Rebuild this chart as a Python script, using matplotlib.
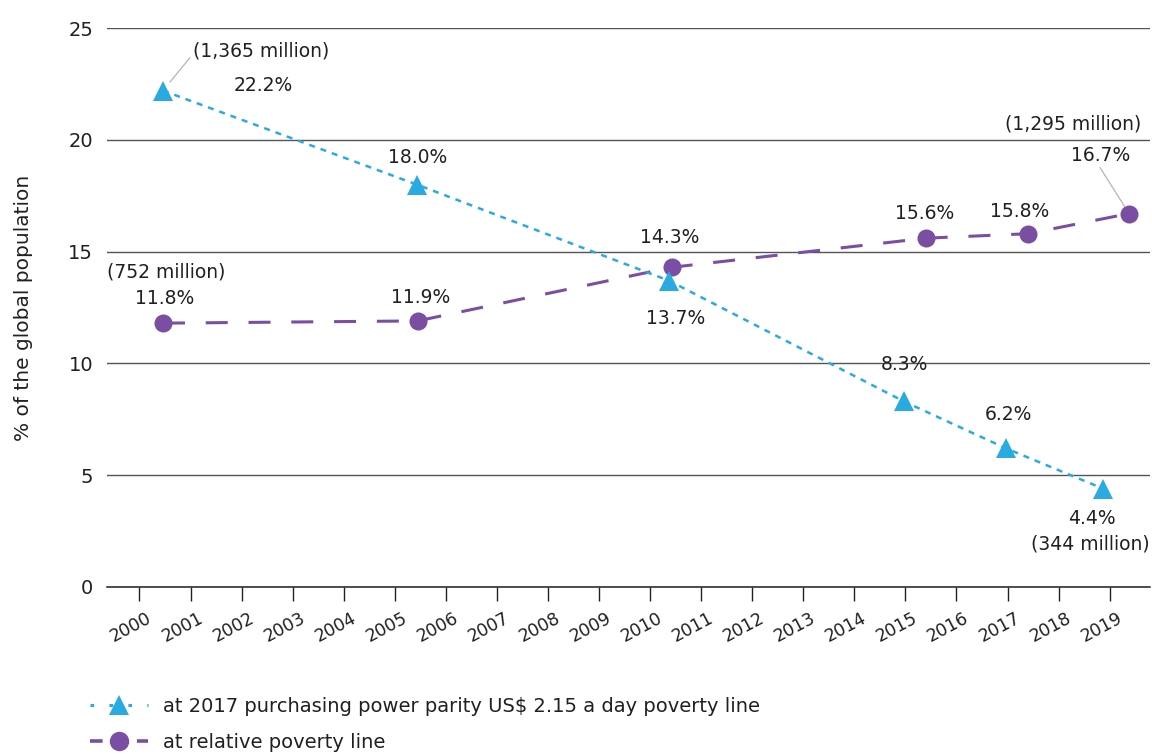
import matplotlib
matplotlib.use("Agg")
import matplotlib.pyplot as plt
from matplotlib.lines import Line2D
import matplotlib.transforms as mtransforms

plt.rcParams['font.family'] = ['DejaVu Sans']

# ---------------- data ----------------
years = list(range(2000, 2020))

# x positions where the markers sit (the designer shifted them off the ticks)
ppp_x = [2000.46, 2005.43, 2010.37, 2014.97, 2016.97, 2018.87]
ppp_val = [22.2, 18.0, 13.7, 8.3, 6.2, 4.4]
ppp_lbl = ['22.2%', '18.0%', '13.7%', '8.3%', '6.2%', '4.4%']

rel_x = [2000.46, 2005.45, 2010.43, 2015.40, 2017.40, 2019.38]
rel_val = [11.8, 11.9, 14.3, 15.6, 15.8, 16.7]
rel_lbl = ['11.8%', '11.9%', '14.3%', '15.6%', '15.8%', '16.7%']

ppp_name = 'at 2017 purchasing power parity US$ 2.15 a day poverty line'
rel_name = 'at relative poverty line'

c_blue = '#29abe2'
c_purple = '#7a4fa3'
c_text = '#231f20'
fs_lbl = 13.5

# ---------------- figure ----------------
fig = plt.figure(figsize=(11.52, 7.54), dpi=100)
ax = fig.add_axes([107 / 1152, 167 / 754, 1043 / 1152, 559 / 754])

ax.plot(ppp_x, ppp_val, color=c_blue, lw=1.8, ls=(0, (2.4, 2.4)),
        marker='^', ms=15, markeredgewidth=0, zorder=4)
ax.plot(rel_x, rel_val, color=c_purple, lw=2.2, ls=(0, (7.2, 6.8)),
        marker='o', ms=13, markeredgewidth=0, zorder=3)

ax.set_xlim(1999.364, 2019.79)
ax.set_ylim(0, 25)
ax.set_yticks([0, 5, 10, 15, 20, 25])
ax.set_xticks(years)
ax.tick_params(axis='y', length=0, pad=10, labelsize=14, labelcolor=c_text)
ax.tick_params(axis='x', length=10, width=1, pad=6, color='#222222')
ax.set_xticklabels([str(y) for y in years], rotation=28, ha='right',
                   va='top', rotation_mode='anchor', fontsize=12.5,
                   color=c_text)
# shift the rotated year labels a little to the right of their ticks
offset = mtransforms.ScaledTranslation(7 / 100, 0, fig.dpi_scale_trans)
for lab in ax.get_xticklabels():
    lab.set_transform(lab.get_transform() + offset)

for s in ['top', 'right', 'left']:
    ax.spines[s].set_visible(False)
ax.spines['bottom'].set_color('#222222')
ax.spines['bottom'].set_linewidth(1.1)
ax.yaxis.grid(True, color='#555555', lw=1)
ax.set_axisbelow(True)

fig.text(24 / 1152, 1 - 308 / 754, '% of the global population', rotation=90,
         ha='center', va='center', fontsize=14.5, color=c_text)

# ---------------- value labels ----------------
ppp_off = [(100, 5), (1, 27), (7, -38), (1, 37), (2, 34), (-11, -30)]
rel_off = [(2, 25), (3, 23), (-2, 30), (-1, 25), (-8, 22), (-28, 58)]

for x, v, t, (dx, dy) in zip(ppp_x, ppp_val, ppp_lbl, ppp_off):
    ax.annotate(t, (x, v), xytext=(dx, dy), textcoords='offset pixels',
                ha='center', va='center', fontsize=fs_lbl, color=c_text)
for x, v, t, (dx, dy) in zip(rel_x, rel_val, rel_lbl, rel_off):
    ax.annotate(t, (x, v), xytext=(dx, dy), textcoords='offset pixels',
                ha='center', va='center', fontsize=fs_lbl, color=c_text)

# population counts
ax.annotate('(1,365 million)', (ppp_x[0], ppp_val[0]), xytext=(30, 40),
            textcoords='offset pixels', ha='left', va='center',
            fontsize=fs_lbl, color=c_text)
ax.annotate('(344 million)', (ppp_x[-1], ppp_val[-1]), xytext=(-13, -55),
            textcoords='offset pixels', ha='center', va='center',
            fontsize=fs_lbl, color=c_text)
ax.annotate('(752 million)', (rel_x[0], rel_val[0]), xytext=(3, 51),
            textcoords='offset pixels', ha='center', va='center',
            fontsize=fs_lbl, color=c_text)
ax.annotate('(1,295 million)', (rel_x[-1], rel_val[-1]), xytext=(-56, 90),
            textcoords='offset pixels', ha='center', va='center',
            fontsize=fs_lbl, color=c_text, annotation_clip=False)

# connector lines
ax.annotate('', (ppp_x[0], ppp_val[0]), xytext=(27, 33),
            textcoords='offset pixels',
            arrowprops=dict(arrowstyle='-', color='#b5b5b5', lw=0.9,
                            shrinkA=0, shrinkB=8))
ax.annotate('', (rel_x[-1], rel_val[-1]), xytext=(-29, 46),
            textcoords='offset pixels', annotation_clip=False,
            arrowprops=dict(arrowstyle='-', color='#b5b5b5', lw=0.9,
                            shrinkA=0, shrinkB=6))

# ---------------- legend ----------------
handles = [
    Line2D([], [], color=c_blue, lw=2.2, ls=(0, (1.2, 5)), marker='^',
           ms=15, markeredgewidth=0),
    Line2D([], [], color=c_purple, lw=2.6, ls=(0, (3.5, 3)), marker='o',
           ms=14, markeredgewidth=0),
]
fig.legend(handles, [ppp_name, rel_name], loc='upper left',
           bbox_to_anchor=(90 / 1152, 1 - 697 / 754), frameon=False,
           fontsize=14, handlelength=3.0, handletextpad=0.75,
           labelspacing=0.85, borderpad=0, borderaxespad=0, numpoints=1,
           labelcolor=c_text)

fig.savefig('out.png', dpi=100)
